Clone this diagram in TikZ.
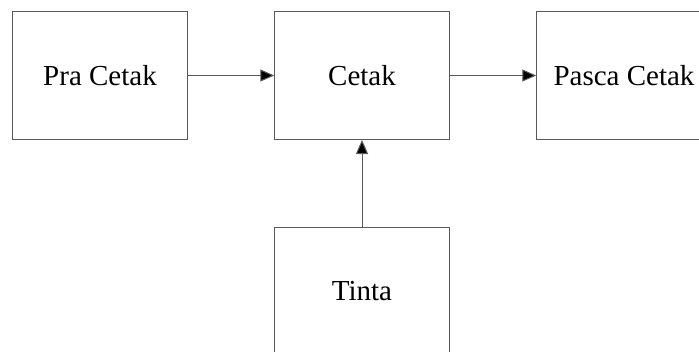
\documentclass[tikz,border=0pt]{standalone}
\usepackage{fontspec}
\setmainfont{Liberation Serif}
\usetikzlibrary{positioning,arrows.meta}

\tikzset{
  stage/.style={draw=black!65, line width=1pt, minimum width=174.5pt, minimum height=128pt,
    inner sep=0pt, font=\fontsize{29}{34}\selectfont},
  flow/.style={draw=black!65, line width=1pt, -{Triangle[length=14pt,width=12pt,fill=black]}}
}

\begin{document}
\begin{tikzpicture}[x=1pt,y=-1pt,node distance=86.5pt]
\useasboundingbox (0,0) rectangle (699,351);
\clip (0,0) rectangle (699,351);
\node[stage] (pra) at (100,75.5) {Pra Cetak};
\node[stage, right=of pra] (cetak) {Cetak};
\node[stage, right=of cetak] (pasca) {Pasca Cetak};
\node[stage, below=of cetak] (tinta) {Tinta};
\draw[flow] (pra) -- (cetak);
\draw[flow] (cetak) -- (pasca);
\draw[flow] (tinta) -- (cetak);
\end{tikzpicture}
\end{document}
